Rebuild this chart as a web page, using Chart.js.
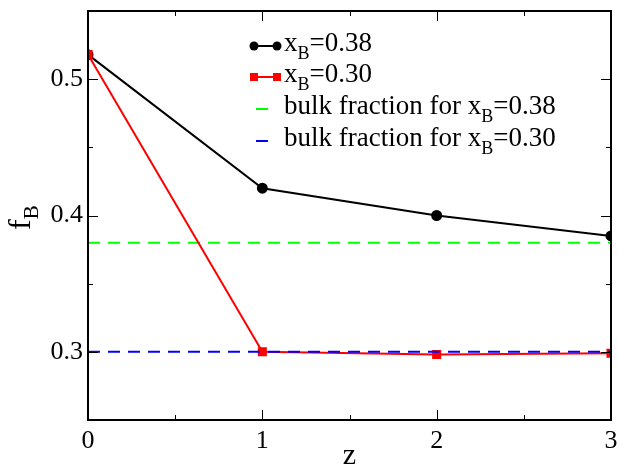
<!DOCTYPE html>
<html>
<head>
<meta charset="utf-8">
<script src="https://cdn.jsdelivr.net/npm/chart.js@4"></script>
<style>
  html, body { margin: 0; padding: 0; background: #fff; }
  #wrap { width: 618px; height: 466px; }
  .preload { position: absolute; left: -999px; top: 0; font-family: "Liberation Serif"; font-size: 24px; }
</style>
</head>
<body>
<span class="preload">0.5 z fB bulk fraction</span>
<div id="wrap"><canvas id="fbChart" width="618" height="466"></canvas></div>
<script>
const xValues = [0, 1, 2, 3];
const fB038 = [0.518, 0.420, 0.400, 0.385];
const fB030 = [0.518, 0.300, 0.298, 0.299];
const bulkX = [0, 3];
const bulk038 = [0.38, 0.38];
const bulk030 = [0.30, 0.30];

const xTickLabels = [0, 1, 2, 3];
const yTickLabels = [0.3, 0.4, 0.5];
const xMinorTicks = [0.5, 1.5, 2.5];
const yMinorTicks = [0.35, 0.45];

const legendLabels = [
    { pre: 'x', sub: 'B', post: '=0.38' },
    { pre: 'x', sub: 'B', post: '=0.30' },
    { pre: 'bulk fraction for x', sub: 'B', post: '=0.38' },
    { pre: 'bulk fraction for x', sub: 'B', post: '=0.30' }
];

const SERIF = "'Liberation Serif', serif";

function pts(xs, ys) {
    return xs.map((x, i) => ({ x: x, y: ys[i] }));
}

// frame, inward ticks, axis titles and legend
const decorPlugin = {
    id: 'decor',
    afterDraw(chart) {
        const ctx = chart.ctx;
        const a = chart.chartArea;
        const xs = chart.scales.x, ys = chart.scales.y;
        ctx.save();
        ctx.strokeStyle = '#000';
        ctx.lineWidth = 2;
        ctx.strokeRect(a.left, a.top, a.right - a.left, a.bottom - a.top);

        ctx.lineWidth = 1;
        ctx.beginPath();
        const tickX = (v, len) => {
            const p = Math.round(xs.getPixelForValue(v)) + 0.5;
            ctx.moveTo(p, a.bottom); ctx.lineTo(p, a.bottom - len);
            ctx.moveTo(p, a.top); ctx.lineTo(p, a.top + len);
        };
        const tickY = (v, len) => {
            const p = Math.round(ys.getPixelForValue(v)) + 0.5;
            ctx.moveTo(a.left, p); ctx.lineTo(a.left + len, p);
            ctx.moveTo(a.right, p); ctx.lineTo(a.right - len, p);
        };
        xTickLabels.forEach(v => tickX(v, 10));
        xMinorTicks.forEach(v => tickX(v, 5));
        yTickLabels.forEach(v => tickY(v, 10));
        yMinorTicks.forEach(v => tickY(v, 5));
        ctx.stroke();

        // axis titles
        ctx.fillStyle = '#000';
        ctx.textBaseline = 'alphabetic';
        ctx.font = '30px ' + SERIF;
        ctx.textAlign = 'center';
        ctx.fillText('z', (a.left + a.right) / 2, 464);

        ctx.save();
        ctx.translate(30, 230);
        ctx.rotate(-Math.PI / 2);
        ctx.textAlign = 'left';
        ctx.font = '32px ' + SERIF;
        ctx.fillText('f', 0, 0);
        const fw = ctx.measureText('f').width;
        ctx.font = '21px ' + SERIF;
        ctx.fillText('B', fw, 8);
        ctx.restore();

        // legend
        const rowY = [46, 77, 109, 141];
        const ds = chart.data.datasets;
        legendLabels.forEach((lab, i) => {
            const d = ds[i];
            const y = rowY[i];
            ctx.strokeStyle = d.borderColor;
            ctx.fillStyle = d.borderColor;
            ctx.lineWidth = 2;
            ctx.setLineDash([]);
            if (d.pointRadius > 0) {
                ctx.beginPath();
                ctx.moveTo(254, y); ctx.lineTo(277, y);
                ctx.stroke();
                [254, 277].forEach(px => {
                    if (d.pointStyle === 'rect') {
                        ctx.fillRect(px - 4, y - 4, 8, 8);
                    } else {
                        ctx.beginPath();
                        ctx.arc(px, y, 4.5, 0, Math.PI * 2);
                        ctx.fill();
                    }
                });
            } else {
                ctx.beginPath();
                ctx.moveTo(256, y); ctx.lineTo(268, y);
                ctx.stroke();
            }
            ctx.fillStyle = '#000';
            ctx.textAlign = 'left';
            ctx.font = '27px ' + SERIF;
            let tx = 284;
            const base = y + 5;
            ctx.fillText(lab.pre, tx, base);
            tx += ctx.measureText(lab.pre).width;
            ctx.font = '18px ' + SERIF;
            ctx.fillText(lab.sub, tx, base + 8);
            tx += ctx.measureText(lab.sub).width;
            ctx.font = '27px ' + SERIF;
            ctx.fillText(lab.post, tx, base);
        });
        ctx.restore();
    }
};

function drawChart() {
    const ctx = document.getElementById('fbChart').getContext('2d');
    new Chart(ctx, {
        type: 'line',
        data: {
            datasets: [
                {
                    label: 'x_B=0.38',
                    data: pts(xValues, fB038),
                    borderColor: '#000000',
                    backgroundColor: '#000000',
                    borderWidth: 2,
                    pointStyle: 'circle',
                    pointRadius: 4.5,
                    order: 4
                },
                {
                    label: 'x_B=0.30',
                    data: pts(xValues, fB030),
                    borderColor: '#ff0000',
                    backgroundColor: '#ff0000',
                    borderWidth: 2,
                    pointStyle: 'rect',
                    pointRadius: 5,
                    order: 2
                },
                {
                    label: 'bulk fraction for x_B=0.38',
                    data: pts(bulkX, bulk038),
                    borderColor: '#00ff00',
                    borderWidth: 2,
                    borderDash: [12, 8],
                    pointRadius: 0,
                    order: 3
                },
                {
                    label: 'bulk fraction for x_B=0.30',
                    data: pts(bulkX, bulk030),
                    borderColor: '#0000ff',
                    borderWidth: 2,
                    borderDash: [12, 8],
                    pointRadius: 0,
                    order: 1
                }
            ]
        },
        options: {
            responsive: false,
            animation: false,
            layout: { padding: { left: 0, right: 6, top: 11, bottom: 0 } },
            plugins: {
                legend: { display: false },
                tooltip: { enabled: false }
            },
            scales: {
                x: {
                    type: 'linear',
                    min: 0,
                    max: 3,
                    afterBuildTicks: s => { s.ticks = xTickLabels.map(v => ({ value: v })); },
                    afterFit: s => { s.height = 46; s.paddingLeft = 0; s.paddingRight = 0; },
                    grid: { display: false, drawTicks: false },
                    border: { display: false },
                    ticks: {
                        padding: 6,
                        color: '#000',
                        font: { family: SERIF, size: 26 },
                        maxRotation: 0,
                        callback: v => String(v)
                    }
                },
                y: {
                    type: 'linear',
                    min: 0.25,
                    max: 0.55,
                    afterBuildTicks: s => { s.ticks = yTickLabels.map(v => ({ value: v })); },
                    afterFit: s => { s.width = 88; s.paddingTop = 0; s.paddingBottom = 0; },
                    grid: { display: false, drawTicks: false },
                    border: { display: false },
                    ticks: {
                        padding: 5,
                        color: '#000',
                        font: { family: SERIF, size: 26 },
                        callback: v => v.toFixed(1)
                    }
                }
            }
        },
        plugins: [decorPlugin]
    });
}

Promise.all([
    document.fonts.load("24px 'Liberation Serif'"),
    document.fonts.load("16px 'Liberation Serif'")
]).then(drawChart, drawChart);
</script>
</body>
</html>
